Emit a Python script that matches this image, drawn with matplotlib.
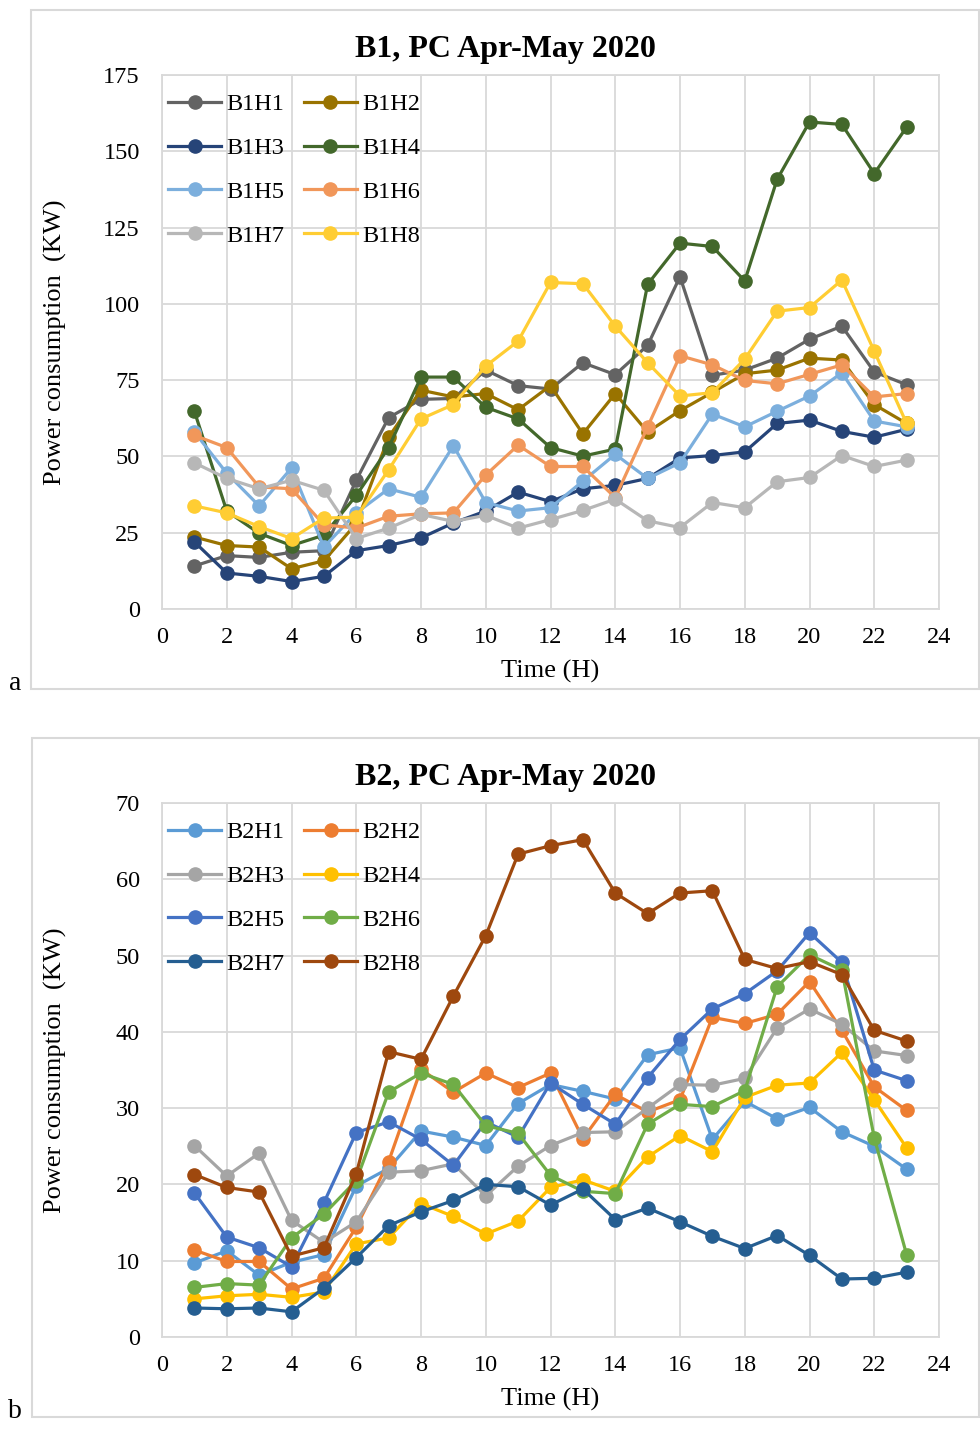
import matplotlib.pyplot as plt
from matplotlib.patches import Rectangle

plt.rcParams['font.family'] = ['Liberation Serif', 'DejaVu Serif']

# ---- data ----
hours = list(range(1, 24))

b1_names = ["B1H1", "B1H2", "B1H3", "B1H4", "B1H5", "B1H6", "B1H7", "B1H8"]
b1h1 = [14.1, 17.5, 16.9, 18.6, 19.1, 42.2, 62.7, 68.7, 69.0, 78.3, 73.2, 72.1,
        80.7, 76.8, 86.4, 108.9, 76.6, 78.3, 82.2, 88.4, 92.7, 77.7, 73.5]
b1h2 = [23.6, 20.8, 20.3, 13.2, 15.8, 28.0, 56.3, 71.7, 69.5, 70.6, 65.3, 73.2,
        57.4, 70.6, 58.0, 65.0, 71.0, 77.1, 78.3, 82.2, 81.6, 67.0, 60.8]
b1h3 = [22.0, 11.8, 10.7, 9.0, 10.7, 19.1, 20.8, 23.3, 28.2, 32.1, 38.3, 35.2,
        39.4, 40.5, 42.8, 49.5, 50.3, 51.5, 60.8, 61.9, 58.2, 56.3, 58.9]
b1h4 = [64.8, 32.1, 24.8, 20.8, 24.2, 37.2, 52.9, 76.0, 76.0, 66.1, 62.3, 52.9,
        50.1, 52.4, 106.4, 119.9, 118.8, 107.5, 140.8, 159.6, 158.8, 142.7, 157.9]
b1h5 = [58.0, 44.5, 33.8, 46.2, 20.3, 31.5, 39.4, 36.6, 53.5, 34.9, 32.1, 33.2,
        41.9, 50.7, 42.8, 47.9, 63.9, 59.7, 64.8, 69.8, 77.4, 61.6, 59.7]
b1h6 = [56.9, 52.9, 40.0, 39.4, 27.6, 26.5, 30.4, 31.2, 31.5, 43.9, 53.7, 46.7,
        46.7, 36.5, 59.7, 83.0, 80.0, 74.9, 73.8, 76.9, 80.0, 69.5, 70.6]
b1h7 = [47.9, 42.8, 39.4, 42.2, 38.9, 23.1, 26.5, 31.0, 28.7, 30.7, 26.5, 29.3,
        32.3, 36.0, 28.9, 26.7, 34.9, 33.2, 41.7, 43.1, 50.3, 46.7, 48.8]
b1h8 = [33.8, 31.5, 27.0, 23.1, 29.8, 30.1, 45.6, 62.3, 67.0, 79.6, 87.8, 107.0,
        106.6, 92.7, 80.7, 69.8, 70.9, 81.9, 97.6, 98.8, 107.8, 84.5, 60.8]
b1_series = [b1h1, b1h2, b1h3, b1h4, b1h5, b1h6, b1h7, b1h8]
b1_colors = ['#636363', '#997300', '#264478', '#43682b',
             '#7cafdd', '#f1975a', '#b7b7b7', '#ffcd33']

b2_names = ["B2H1", "B2H2", "B2H3", "B2H4", "B2H5", "B2H6", "B2H7", "B2H8"]
b2h1 = [9.7, 11.3, 8.1, 9.8, 10.8, 19.8, 22.1, 27.0, 26.2, 25.1, 30.6, 33.1,
        32.2, 31.2, 37.0, 37.9, 25.9, 30.9, 28.6, 30.1, 26.9, 25.0, 22.0]
b2h2 = [11.4, 9.9, 9.9, 6.3, 7.7, 14.4, 23.0, 35.1, 32.1, 34.6, 32.7, 34.6,
        26.0, 31.8, 29.5, 31.1, 41.9, 41.1, 42.3, 46.6, 40.2, 32.8, 29.7]
b2h3 = [25.1, 21.1, 24.1, 15.3, 12.4, 15.1, 21.6, 21.8, 22.7, 18.5, 22.4, 25.1,
        26.8, 26.9, 30.0, 33.1, 33.0, 33.9, 40.5, 43.0, 41.0, 37.5, 36.9]
b2h4 = [5.0, 5.4, 5.6, 5.2, 5.9, 12.2, 13.0, 17.5, 15.8, 13.5, 15.2, 19.6,
        20.6, 19.1, 23.6, 26.4, 24.3, 31.4, 33.0, 33.3, 37.3, 31.1, 24.8]
b2h5 = [18.9, 13.1, 11.7, 9.2, 17.6, 26.8, 28.2, 25.9, 22.5, 28.2, 26.2, 33.3,
        30.5, 27.9, 34.0, 39.0, 43.0, 45.0, 48.0, 53.0, 49.1, 35.0, 33.6]
b2h6 = [6.5, 7.0, 6.8, 13.0, 16.1, 20.5, 32.1, 34.6, 33.1, 27.7, 26.7, 21.2,
        19.1, 18.8, 27.9, 30.5, 30.2, 32.3, 45.9, 50.1, 48.1, 26.1, 10.8]
b2h7 = [3.8, 3.7, 3.8, 3.3, 6.4, 10.4, 14.6, 16.4, 17.9, 20.0, 19.7, 17.3,
        19.4, 15.4, 16.9, 15.1, 13.2, 11.6, 13.3, 10.7, 7.6, 7.7, 8.5]
b2h8 = [21.3, 19.6, 19.0, 10.6, 11.7, 21.4, 37.4, 36.4, 44.7, 52.6, 63.3, 64.4,
        65.2, 58.2, 55.5, 58.2, 58.5, 49.5, 48.3, 49.2, 47.5, 40.2, 38.8]
b2_series = [b2h1, b2h2, b2h3, b2h4, b2h5, b2h6, b2h7, b2h8]
b2_colors = ['#5b9bd5', '#ed7d31', '#a5a5a5', '#ffc000',
             '#4472c4', '#70ad47', '#255e91', '#9e480e']

W, H = 980, 1431
GRID = '#d9d9d9'
fig = plt.figure(figsize=(W / 100, H / 100), dpi=100)


def px_rect(x0, y0, x1, y1):
    # pixel box (top-left origin) -> figure fraction [l, b, w, h]
    return [x0 / W, (H - y1) / H, (x1 - x0) / W, (y1 - y0) / H]


def draw_panel(box, plot_box, title, tag, names, series, colors, ymax, ystep):
    # outer chart border
    l, b, w, h = px_rect(*box)
    fig.patches.append(Rectangle((l, b), w, h, transform=fig.transFigure,
                                 fill=False, edgecolor=GRID, linewidth=1.5))
    ax = fig.add_axes(px_rect(*plot_box))
    lines = []
    for name, vals, c in zip(names, series, colors):
        ln, = ax.plot(hours, vals, color=c, linewidth=2.3, marker='o',
                      markersize=9.5, label=name)
        lines.append(ln)
    ax.set_xlim(0, 24)
    ax.set_ylim(0, ymax)
    ax.set_xticks(range(0, 25, 2))
    ax.set_yticks(range(0, ymax + 1, ystep))
    ax.grid(True, color=GRID, linewidth=1.3)
    ax.set_axisbelow(True)
    for s in ax.spines.values():
        s.set_color(GRID)
        s.set_linewidth(1.3)
    ax.tick_params(length=0, labelsize=17.5)
    ax.tick_params(axis='y', pad=16)
    ax.tick_params(axis='x', pad=13)
    ax.set_xlabel("Time (H)", fontsize=19, va='center')
    ax.xaxis.set_label_coords(0.5, -62 / 534)
    ax.set_ylabel("Power consumption  (KW)", fontsize=19, va='center')
    ax.yaxis.set_label_coords(-107 / 777, 0.5)
    # legend filled row by row (matplotlib fills columns, so reorder)
    order = [0, 2, 4, 6, 1, 3, 5, 7]
    ax.legend([lines[i] for i in order], [names[i] for i in order],
              ncol=2, loc='upper left', bbox_to_anchor=(0.0077, 0.966),
              frameon=False, fontsize=17.5, handlelength=2.2,
              handletextpad=0.2, columnspacing=0.8, labelspacing=0.9,
              borderpad=0, borderaxespad=0)
    x0, y0, x1, y1 = box
    fig.text((x0 + x1) / 2 / W, 1 - (y0 + 39) / H, title, ha='center',
             va='center', fontsize=23, fontweight='bold')
    fig.text(15 / W, 1 - (y1 - 5) / H, tag, ha='center', va='center',
             fontsize=20)
    return ax


draw_panel((31, 10, 979, 689), (162, 75, 939, 609), "B1, PC Apr-May 2020", "a",
           b1_names, b1_series, b1_colors, 175, 25)
draw_panel((32, 738, 979, 1417), (162, 803, 939, 1337), "B2, PC Apr-May 2020", "b",
           b2_names, b2_series, b2_colors, 70, 10)

fig.savefig("out.png", dpi=100)
